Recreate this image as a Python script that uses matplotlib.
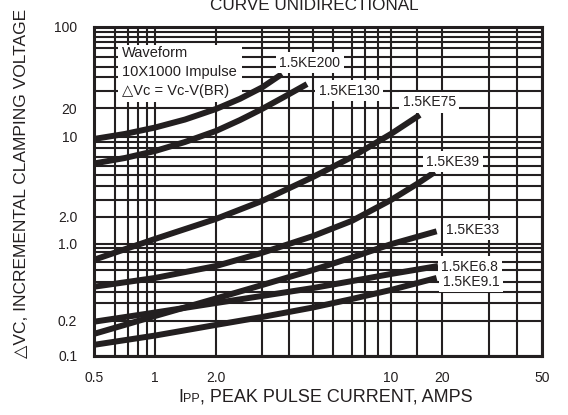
import numpy as np
import matplotlib
matplotlib.use("Agg")
import matplotlib.pyplot as plt
from matplotlib.patches import Rectangle

plt.rcParams["font.family"] = ["Liberation Sans", "DejaVu Sans"]

INK = "#231f20"

# ── Curves (Ipp in A, delta Vc in V) ─────────────────────────────────────────
ipp_200 = [0.5, 0.676, 1.0, 1.406, 2.0, 2.47, 3.0, 3.71]
dvc_200 = [9.53, 10.7, 12.5, 15.2, 19.66, 22.6, 26.2, 32.8]

ipp_130 = [0.5, 0.676, 1.0, 1.406, 2.0, 2.47, 3.0, 3.83, 4.73]
dvc_130 = [6.23, 6.85, 7.66, 8.95, 11.5, 15.0, 19.66, 23.3, 27.4]

ipp_75 = [0.5, 1.0, 2.0, 3.0, 5.0, 7.0, 10.0, 15.5]
dvc_75 = [0.718, 1.13, 1.89, 2.93, 4.80, 6.97, 10.7, 17.0]

ipp_39 = [0.5, 1.0, 2.0, 3.0, 5.0, 7.0, 10.0, 15.0, 18.4]
dvc_39 = [0.447, 0.530, 0.646, 0.788, 1.216, 1.80, 3.0, 4.17, 5.30]

ipp_33 = [0.5, 1.0, 2.0, 3.0, 5.0, 7.0, 10.0, 18.8]
dvc_33 = [0.154, 0.223, 0.338, 0.464, 0.60, 0.741, 0.987, 1.375]

ipp_6v8 = [0.5, 1.0, 2.0, 3.0, 5.0, 7.0, 10.0, 19.1]
dvc_6v8 = [0.196, 0.242, 0.302, 0.360, 0.434, 0.505, 0.564, 0.646]

ipp_9v1 = [0.5, 1.0, 2.0, 3.0, 5.0, 7.0, 10.0, 18.8]
dvc_9v1 = [0.124, 0.149, 0.184, 0.218, 0.272, 0.334, 0.416, 0.530]

curve_names = ["1.5KE200", "1.5KE130", "1.5KE75", "1.5KE39",
               "1.5KE33", "1.5KE6.8", "1.5KE9.1"]

x_ticks = [0.5, 1, 2, 10, 20, 50]
x_tick_labels = ["0.5", "1", "2.0", "10", "20", "50"]
y_ticks = [0.1, 0.2, 1, 2, 10, 20, 100]
y_tick_labels = ["0.1", "0.2", "1.0", "2.0", "10", "20", "100"]

# ── The printed grid is not a true log grid: grid values and where they sit
#    along the axis (fraction of axis length) ─────────────────────────────────
x_grid = [0.5, 0.6, 0.7, 0.8, 0.9, 1, 2, 3, 4, 5, 6, 7, 8, 9, 10, 15, 20, 30, 40, 50]
x_grid_pos = [0.0, 0.0469, 0.0759, 0.0982, 0.1183, 0.1362, 0.2723, 0.375, 0.4353,
              0.4888, 0.5335, 0.5759, 0.6049, 0.6339, 0.6629, 0.7210, 0.7768,
              0.8817, 0.9442, 1.0]

y_grid = [0.1, 0.2, 0.3, 0.4, 0.5, 0.6, 0.7, 0.8, 0.9, 1, 2, 3, 4, 5, 6, 7, 8, 9,
          10, 20, 25, 30, 40, 50, 60, 70, 80, 90, 100]
y_grid_pos = [0.0, 0.1064, 0.1593, 0.1945, 0.2249, 0.2605, 0.2857, 0.3161, 0.3283,
              0.3404, 0.4225, 0.4733, 0.5158, 0.5492, 0.5775, 0.6049, 0.6304,
              0.6505, 0.6657, 0.7520, 0.8046, 0.8462, 0.8784, 0.9088, 0.9343,
              0.9544, 0.9696, 0.9848, 1.0]


def grid_scale(vals, pos):
    lv = np.log10(np.asarray(vals, float))
    p = np.asarray(pos, float)

    def fwd(v):
        return np.interp(np.log10(np.clip(np.asarray(v, float), 1e-9, None)), lv, p)

    def inv(q):
        return 10 ** np.interp(np.asarray(q, float), p, lv)

    return fwd, inv


fig = plt.figure(figsize=(5.68, 4.15), dpi=100)
ax = fig.add_axes([94 / 568, 1 - 355.7 / 415, 448 / 568, 329 / 415])

ax.set_xscale("function", functions=grid_scale(x_grid, x_grid_pos))
ax.set_yscale("function", functions=grid_scale(y_grid, y_grid_pos))
ax.set_xlim(0.5, 50)
ax.set_ylim(0.1, 100)

ax.set_xticks(x_ticks, x_tick_labels)
ax.set_xticks([v for v in x_grid if v not in x_ticks], minor=True)
ax.set_yticks(y_ticks, y_tick_labels)
ax.set_yticks([v for v in y_grid if v not in y_ticks], minor=True)
ax.tick_params(which="both", length=0, labelsize=10, labelcolor=INK)
ax.tick_params(axis="x", pad=11)
ax.tick_params(axis="y", pad=12)
ax.set_axisbelow(True)
ax.grid(True, which="both", color=INK, lw=1.5)
for sp in ax.spines.values():
    sp.set_color(INK)
    sp.set_linewidth(2.2)

# ── Curves ───────────────────────────────────────────────────────────────────
series = [(ipp_200, dvc_200), (ipp_130, dvc_130), (ipp_75, dvc_75), (ipp_39, dvc_39),
          (ipp_33, dvc_33), (ipp_6v8, dvc_6v8), (ipp_9v1, dvc_9v1)]
for xs, ys in series:
    ax.plot(xs, ys, color=INK, lw=4.3, solid_capstyle="butt",
            solid_joinstyle="round", zorder=2)

# curve labels (axes fraction of label centre)
label_pos = [(0.482, 0.890), (0.569, 0.806), (0.748, 0.770), (0.801, 0.589),
             (0.846, 0.382), (0.839, 0.270), (0.842, 0.224)]
for name, (lx, ly) in zip(curve_names, label_pos):
    ax.text(lx, ly, name, transform=ax.transAxes, ha="center", va="center",
            fontsize=10, color=INK, zorder=3,
            bbox=dict(boxstyle="square,pad=0.25", fc="white", ec="none"))

# waveform note
ax.add_patch(Rectangle((0.054, 0.771), 0.276, 0.173, transform=ax.transAxes,
                       fc="white", ec="none", zorder=1.5))
for ty, line in zip([0.920, 0.862, 0.805],
                    ["Waveform", "10X1000 Impulse", "△Vc = Vc-V(BR)"]):
    ax.text(0.0625, ty, line, transform=ax.transAxes, ha="left", va="center",
            fontsize=10.5, color=INK, zorder=3)

# ── Titles ───────────────────────────────────────────────────────────────────
fig.text(314 / 568, 1 - 10.5 / 415, "CURVE UNIDIRECTIONAL", ha="center",
         va="baseline", fontsize=12.3, color=INK)
fig.text(22 / 568, 1 - 183 / 415, "△VC, INCREMENTAL CLAMPING VOLTAGE",
         rotation=90, ha="center", va="center", fontsize=12.5, color=INK)

# x label: "I" + small "PP" + rest, on one baseline
base_y = 1 - 401.5 / 415
r = fig.canvas.get_renderer()
t1 = fig.text(178 / 568, base_y, "I", va="baseline", fontsize=13, color=INK)
x2 = t1.get_window_extent(r).x1 / fig.bbox.width
t2 = fig.text(x2, base_y, "PP", va="baseline", fontsize=9, color=INK)
x3 = t2.get_window_extent(r).x1 / fig.bbox.width
fig.text(x3, base_y, ", PEAK PULSE CURRENT, AMPS", va="baseline", fontsize=13, color=INK)

fig.savefig("out.png", dpi=100)
